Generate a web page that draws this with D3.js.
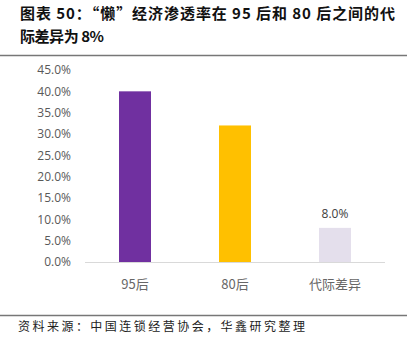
<!DOCTYPE html>
<html><head><meta charset="utf-8">
<script src="https://cdn.jsdelivr.net/npm/d3@7"></script>
<style>body{margin:0;background:#fff}svg{display:block}</style>
</head><body>
<script>
const categories = ["95后", "80后", "代际差异"];
const values = [0.40, 0.32, 0.08];
const colors = ["#7030A0", "#FFC000", "#E4DFEC"];
const yTicks = [0, 0.05, 0.10, 0.15, 0.20, 0.25, 0.30, 0.35, 0.40, 0.45];
const labelled = [false, false, true];
const titleLines = ["图表 50：“懒”经济渗透率在 95 后和 80 后之间的代", "际差异为 8%"];
const source = "资料来源：中国连锁经营协会，华鑫研究整理";

const W = 416, H = 351;
const svg = d3.select("body").append("svg").attr("width", W).attr("height", H);
const cjk = "'Noto Sans CJK SC', sans-serif";
const titleLens = [375, 84];

svg.selectAll("text.title").data(titleLines).enter().append("text")
  .attr("x", 20).attr("y", (d, i) => 19 + i * 23)
  .attr("font-family", cjk).attr("font-weight", "bold").attr("font-size", 15)
  .attr("textLength", (d, i) => titleLens[i]).attr("lengthAdjust", "spacing")
  .attr("fill", "#111").text(d => d);

svg.append("line").attr("x1", 0).attr("x2", 407).attr("y1", 55.5).attr("y2", 55.5)
  .attr("stroke", "#777").attr("stroke-width", 1.5);
svg.append("line").attr("x1", 0).attr("x2", 407).attr("y1", 315.5).attr("y2", 315.5)
  .attr("stroke", "#777").attr("stroke-width", 1.5);

svg.append("text").attr("x", 18).attr("y", 331).attr("font-family", cjk)
  .attr("font-size", 12).attr("fill", "#222")
  .attr("textLength", 287).attr("lengthAdjust", "spacing").text(source);

const x = d3.scaleBand().domain(categories).range([85, 385]).paddingInner(0.68).paddingOuter(0.34);
const y = d3.scaleLinear().domain([0, 0.45]).range([262, 70]);

const fmt = d3.format(".1%");
const yAxis = svg.append("g").attr("transform", "translate(71,0)")
  .call(d3.axisLeft(y).tickValues(yTicks).tickFormat(fmt).tickSize(0).tickPadding(0));
yAxis.select(".domain").remove();
yAxis.selectAll("text").attr("font-family", "'Open Sans', sans-serif").attr("font-size", 12).attr("fill", "#595959");

svg.selectAll("rect.bar").data(values).enter().append("rect")
  .attr("x", (d, i) => x(categories[i])).attr("width", x.bandwidth())
  .attr("y", d => y(d)).attr("height", d => y(0) - y(d))
  .attr("fill", (d, i) => colors[i]);

svg.append("line").attr("x1", 85).attr("x2", 385).attr("y1", 262.5).attr("y2", 262.5)
  .attr("stroke", "#D9D9D9").attr("stroke-width", 1);

const xAxis = svg.append("g").attr("transform", "translate(0,262)")
  .call(d3.axisBottom(x).tickSize(0).tickPadding(18));
xAxis.select(".domain").remove();
xAxis.selectAll("text").attr("font-family", cjk).attr("font-size", 13).attr("fill", "#666");

svg.selectAll("text.vl").data(values).enter().filter((d, i) => labelled[i]).append("text")
  .attr("x", (d, i) => x(categories[2]) + x.bandwidth() / 2)
  .attr("y", d => y(d) - 10).attr("text-anchor", "middle")
  .attr("font-family", "'Open Sans', sans-serif").attr("font-size", 12).attr("fill", "#404040")
  .text(d => fmt(d));
</script>
</body></html>
